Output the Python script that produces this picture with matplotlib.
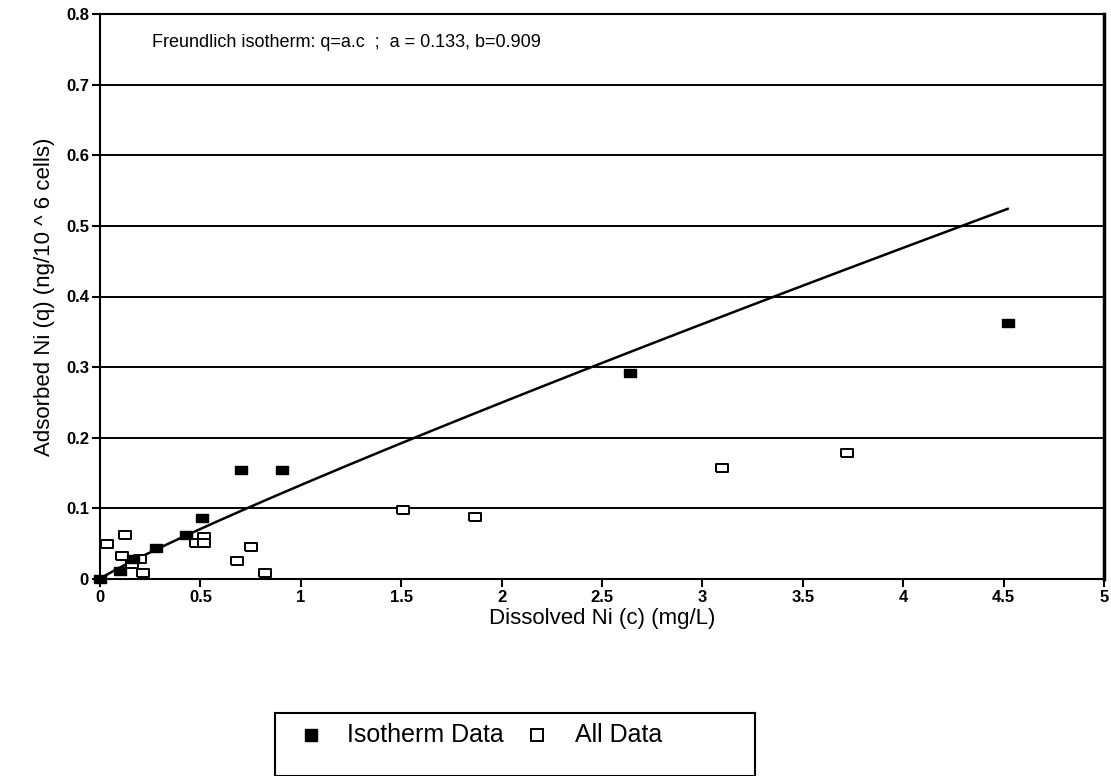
import numpy as np
import matplotlib
matplotlib.use('Agg')
import matplotlib.pyplot as plt

plt.rcParams['font.family'] = ['Liberation Sans', 'DejaVu Sans']

# isotherm points (filled) and all points (open)
iso_c = [0.0, 0.10, 0.166, 0.28, 0.43, 0.51, 0.70, 0.905, 2.64, 4.52]
iso_q = [0.0, 0.011, 0.029, 0.044, 0.062, 0.086, 0.155, 0.155, 0.292, 0.362]

all_c = [0.033, 0.125, 0.11, 0.20, 0.16, 0.216, 0.48, 0.52, 0.52, 0.75, 0.68, 0.82,
         1.51, 1.87, 3.10, 3.72]
all_q = [0.049, 0.062, 0.032, 0.029, 0.021, 0.009, 0.051, 0.060, 0.051, 0.046, 0.025, 0.009,
         0.098, 0.088, 0.157, 0.179]

# Freundlich fit parameters
a_fit = 0.133
b_fit = 0.909
c_max = 4.52

xticks = [0, 0.5, 1, 1.5, 2, 2.5, 3, 3.5, 4, 4.5, 5]
xticklabels = ['0', '0.5', '1', '1.5', '2', '2.5', '3', '3.5', '4', '4.5', '5']
yticks = [0, 0.1, 0.2, 0.3, 0.4, 0.5, 0.6, 0.7, 0.8]
yticklabels = ['0', '0.1', '0.2', '0.3', '0.4', '0.5', '0.6', '0.7', '0.8']

rect = [(-1.4, -1), (1.4, -1), (1.4, 1), (-1.4, 1), (-1.4, -1)]

fig = plt.figure(figsize=(11.11, 7.76), dpi=100)
ax = fig.add_axes([100 / 1111, 1 - 579 / 776, 1004 / 1111, 565 / 776])

for y in yticks[1:]:
    ax.axhline(y, color='black', linewidth=1.4, zorder=1)

c_line = np.linspace(0, c_max, 200)
ax.plot(c_line, a_fit * c_line ** b_fit, color='black', linewidth=1.8, zorder=2)

ax.plot(all_c, all_q, linestyle='none', marker=rect, markersize=9,
        markerfacecolor='white', markeredgecolor='black', markeredgewidth=1.4,
        zorder=3, clip_on=False)
ax.plot(iso_c, iso_q, linestyle='none', marker=rect, markersize=9,
        markerfacecolor='black', markeredgecolor='black', zorder=4, clip_on=False)

ax.set_xlim(0, 5)
ax.set_ylim(0, 0.8)
ax.set_xticks(xticks)
ax.set_xticklabels(xticklabels, fontsize=12, fontweight='bold')
ax.set_yticks(yticks)
ax.set_yticklabels(yticklabels, fontsize=12, fontweight='bold')
ax.tick_params(direction='out', length=6, width=1.5, colors='black', pad=2)
for s in ax.spines.values():
    s.set_linewidth(1.5)
ax.spines['right'].set_linewidth(2.5)

ax.set_xlabel('Dissolved Ni (c) (mg/L)', fontsize=16, labelpad=2)
ax.set_ylabel('Adsorbed Ni (q) (ng/10 ^ 6 cells)', fontsize=16, labelpad=8)

ax.text(0.26, 0.76, 'Freundlich isotherm: q=a.c  ;  a = 0.133, b=0.909',
        fontsize=13, va='center', ha='left')

# legend box below the plot
lax = fig.add_axes([275 / 1111, 0, 480 / 1111, 63 / 776])
lax.set_xticks([])
lax.set_yticks([])
for s in lax.spines.values():
    s.set_linewidth(1.5)
lax.set_xlim(0, 480)
lax.set_ylim(0, 63)
lax.plot([36], [41], marker='s', markersize=8, color='black', linestyle='none')
lax.text(72, 41, 'Isotherm Data', fontsize=18, va='center')
lax.plot([262], [41], marker='s', markersize=8, markerfacecolor='white',
         markeredgecolor='black', markeredgewidth=1.4, linestyle='none')
lax.text(300, 41, 'All Data', fontsize=18, va='center')

fig.savefig('out.png', dpi=100)
